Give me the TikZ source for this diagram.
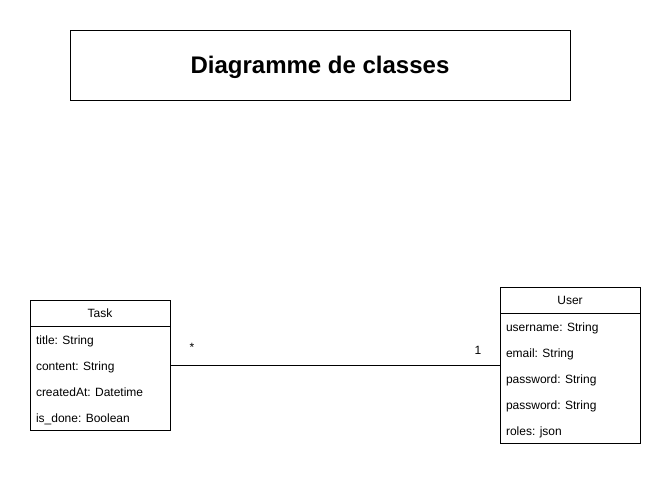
\documentclass[tikz,border=0pt]{standalone}
\usepackage{fontspec}
\setmainfont{Liberation Sans}
\usetikzlibrary{positioning}

\begin{document}
\begin{tikzpicture}[x=1pt,y=-1pt,line width=1pt]

    \tikzstyle{every node}=[font=\fontsize{12}{14}\selectfont,inner sep=0pt,outer sep=0pt]
    \tikzstyle{titlebox}=[draw,minimum width=500pt,minimum height=70pt,font=\fontsize{24}{28}\selectfont\bfseries,text height=19pt,text depth=3pt]
    \tikzstyle{classhead}=[draw,minimum width=140pt,minimum height=26pt,text height=10pt,text depth=2pt]
    \tikzstyle{classbody}=[draw,minimum width=140pt]
    \tikzstyle{attr}=[anchor=west,text height=10pt,text depth=2pt]

    \useasboundingbox (0,0) rectangle (671,477);

    \node[titlebox] (title) at (320,65) {Diagramme de classes};

    % Task
    \node[classhead] (task) at (100,313) {Task};
    \node[classbody,minimum height=104pt,below=0pt of task] (taskbody) {};
    \node[attr] (tasktitle)   at (36,340) {title: String};
    \node[attr] (taskcontent) at (36,366) {content: String};
    \node[attr] (taskdate)    at (36,392) {createdAt: Datetime};
    \node[attr] (taskdone)    at (36,418) {is\_done: Boolean};

    % User
    \node[classhead] (user) at (570,300) {User};
    \node[classbody,minimum height=130pt,below=0pt of user] (userbody) {};
    \node[attr] (username)  at (506,327) {username: String};
    \node[attr] (useremail) at (506,353) {email: String};
    \node[attr] (userpass)  at (506,379) {password: String};
    \node[attr] (userpass2) at (506,405) {password: String};
    \node[attr] (userroles) at (506,431) {roles: json};

    % association
    \coordinate (assoc) at (0,365);
    \draw (taskbody.east |- assoc) -- (userbody.west |- assoc);
    \node (manytask) at (192,347) {*};
    \node[text height=10pt,text depth=2pt] (oneuser) at (478,350) {1};
\end{tikzpicture}
\end{document}
